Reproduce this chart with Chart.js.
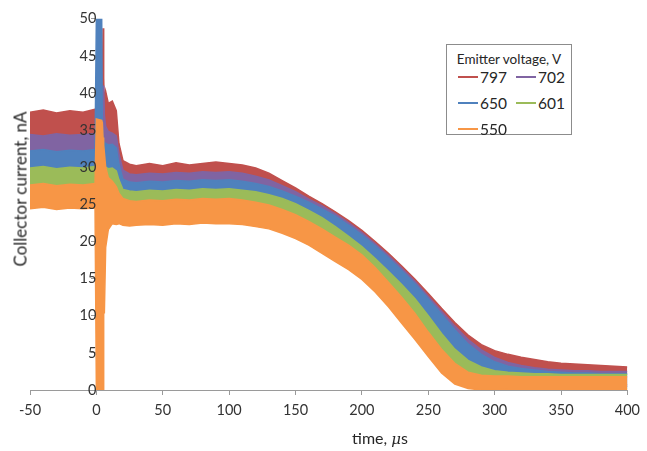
<!DOCTYPE html>
<html><head><meta charset="utf-8">
<script src="https://cdn.jsdelivr.net/npm/chart.js@4.4.0/dist/chart.umd.min.js"></script>
<style>
html,body{margin:0;padding:0;background:#fff;}
#wrap{position:relative;width:647px;height:451px;font-family:Lato,"Open Sans",sans-serif;color:#262626;overflow:hidden;}
#c{position:absolute;left:0;top:0;}
#ytitle{position:absolute;left:20px;top:189px;transform:translate(-50%,-50%) rotate(-90deg);white-space:nowrap;font-size:17px;}
#xtitle{position:absolute;left:380px;top:438px;transform:translate(-50%,-50%);white-space:nowrap;font-size:16px;}
#xtitle i{font-family:"DejaVu Serif",serif;font-size:15px;}
#legend{position:absolute;left:446px;top:44px;width:124px;height:89px;border:1px solid #8c8c8c;background:#fff;}
#legend .ttl{position:absolute;left:0;right:0;top:14px;transform:translateY(-50%);text-align:center;font-size:13.5px;white-space:nowrap;}
#legend .item{position:absolute;display:flex;align-items:center;transform:translateY(-50%);font-size:15.5px;white-space:nowrap;}
#legend .sw{display:inline-block;width:20px;height:2px;margin-right:2px;}
</style>
</head><body>
<div id="wrap">
<canvas id="c" width="647" height="451"></canvas>
<div id="ytitle">Collector current, nA</div>
<div id="xtitle">time, <i>μ</i>s</div>
<div id="legend"><div class="ttl">Emitter voltage, V</div></div>
</div>
<script>
// time samples (μs)
const T = [-50,-40,-30,-20,-10,-1,
  0,4,4.5,5,5.5,6,7,9,12,15,17,
  20,25,30,
  40,50,60,70,80,90,100,110,120,130,
  140,150,160,170,180,190,200,210,220,230,
  240,250,260,270,280,290,300,310,320,330,
  340,350,360,370,380,390,400];

const SERIES_NAMES = ['797','702','650','601','550'];
const SERIES_COLORS = ['#C0504D','#8064A2','#4F81BD','#9BBB59','#F79646'];

// upper / lower edges of each noisy trace (nA)
const RED_HI = [37.4,37.7,37.3,37.6,37.4,37.8,
  37.8,38.0,40.0,48.7,42.0,38.5,40.2,38.6,38.9,37.6,33.2,
  30.9,30.4,30.2,
  30.5,30.2,30.6,30.3,30.5,30.7,30.5,30.3,29.9,29.2,
  28.2,27.2,26.1,25.1,24.0,22.8,21.5,20.0,18.4,16.7,
  14.9,13.0,11.0,9.1,7.4,6.1,5.3,4.8,4.4,4.1,
  3.8,3.6,3.5,3.4,3.3,3.2,3.1];
const RED_LO = [33.8,33.9,33.7,33.9,33.8,33.9,
  33.8,33.8,33.8,33.8,33.8,33.8,33.6,33.5,33.5,33.0,30.0,
  27.8,27.5,27.4,
  27.6,27.4,27.7,27.5,27.6,27.8,27.6,27.4,27.0,26.4,
  25.5,24.6,23.6,22.6,21.5,20.3,19.0,17.5,15.9,14.2,
  12.4,10.5,8.5,6.6,4.9,3.6,2.7,2.1,1.7,1.4,
  1.2,1.0,0.9,0.8,0.8,0.7,0.7];
const PURPLE_HI = [34.4,34.2,34.5,34.3,34.4,34.5,
  34.5,34.6,36.0,38.0,41.0,37.0,35.5,34.8,34.6,34.2,31.8,
  29.6,29.1,29.0,
  29.2,29.1,29.3,29.2,29.4,29.3,29.4,29.2,28.8,28.3,
  27.5,26.7,25.7,24.8,23.7,22.5,21.2,19.7,18.1,16.4,
  14.6,12.6,10.6,8.6,6.8,5.4,4.4,3.7,3.3,3.0,
  2.8,2.7,2.6,2.6,2.5,2.5,2.5];
const PURPLE_LO = [31.7,31.6,31.8,31.7,31.6,31.7,
  31.7,31.5,31.5,31.5,31.5,31.5,31.5,31.4,31.3,31.2,28.8,
  26.6,26.3,26.2,
  26.4,26.3,26.5,26.4,26.6,26.5,26.6,26.4,26.0,25.5,
  24.7,23.9,22.9,22.0,20.9,19.7,18.4,16.9,15.3,13.6,
  11.8,9.8,7.8,5.8,4.0,2.6,1.8,1.3,1.0,0.8,
  0.7,0.6,0.6,0.5,0.5,0.5,0.5];
const BLUE_HI = [32.2,32.4,32.1,32.3,32.2,32.4,
  50,50,36.0,34.0,33.6,33.3,33.2,33.0,33.1,32.6,30.4,
  28.4,28.0,27.9,
  28.1,28.0,28.2,28.1,28.3,28.2,28.3,28.1,27.8,27.4,
  26.8,26.1,25.3,24.4,23.4,22.2,20.9,19.4,17.8,16.1,
  14.3,12.3,10.2,8.1,6.2,4.8,3.8,3.2,2.9,2.7,
  2.5,2.4,2.3,2.3,2.2,2.2,2.2];
const BLUE_LO = [29.6,29.7,29.5,29.7,29.6,29.7,
  29.0,29.0,29.3,29.5,29.5,29.5,29.5,29.4,29.4,29.2,27.4,
  25.4,25.1,25.0,
  25.2,25.1,25.3,25.2,25.4,25.3,25.4,25.2,24.9,24.5,
  23.9,23.2,22.4,21.5,20.5,19.3,18.0,16.5,14.9,13.2,
  11.4,9.4,7.3,5.2,3.4,2.1,1.3,0.9,0.7,0.5,
  0.4,0.4,0.4,0.4,0.4,0.4,0.4];
const GREEN_HI = [29.9,30.1,29.8,30.0,29.9,30.1,
  30.1,30.1,30.3,31.0,30.5,30.2,30.0,29.8,29.9,29.5,28.3,
  27.0,26.8,26.7,
  26.9,26.8,27.0,26.9,27.1,27.0,27.1,26.9,26.7,26.3,
  25.8,25.1,24.2,23.2,22.0,20.7,19.3,17.7,16.0,14.2,
  12.3,10.0,7.6,5.5,4.0,3.1,2.6,2.4,2.3,2.2,
  2.2,2.1,2.1,2.1,2.1,2.1,2.1];
const GREEN_LO = [27.4,27.5,27.3,27.5,27.4,27.5,
  27.3,27.3,27.3,27.4,27.4,27.3,27.3,27.2,27.2,27.0,25.4,
  24.2,23.9,23.8,
  24.0,23.9,24.1,24.0,24.2,24.1,24.2,24.0,23.8,23.4,
  22.9,22.2,21.3,20.3,19.1,17.8,16.4,14.8,13.1,11.3,
  9.4,7.1,4.7,2.6,1.1,0.4,0.2,0.2,0.2,0.2,
  0.2,0.2,0.2,0.2,0.2,0.2,0.2];
const ORANGE_HI = [27.6,27.8,27.5,27.7,27.6,27.8,
  36.5,36.3,36.0,34.0,33.0,32.0,30.0,28.6,28.1,27.4,26.5,
  25.8,25.5,25.4,
  25.6,25.5,25.7,25.6,25.8,25.7,25.8,25.6,25.3,24.9,
  24.3,23.6,22.7,21.7,20.6,19.5,18.2,16.5,14.5,12.5,
  10.3,7.8,5.5,3.6,2.4,2.0,1.9,1.9,1.8,1.8,
  1.8,1.8,1.8,1.8,1.8,1.8,1.8];
const ORANGE_LO = [24.4,24.6,24.3,24.5,24.4,24.5,
  0,0,0,0,12.0,10.3,19.2,21.6,22.4,22.3,22.4,
  22.2,22.1,22.2,
  22.3,22.2,22.4,22.3,22.5,22.4,22.4,22.3,22.0,21.7,
  21.1,20.4,19.5,18.4,17.3,16.2,14.9,13.2,11.2,9.0,
  6.8,4.5,2.3,0.8,0.2,0,0,0.1,0.1,0.1,
  0.1,0.1,0.1,0.1,0.1,0.1,0.1];

const X_TICK_STEP = 50, Y_TICK_STEP = 5;

const HI = [RED_HI, PURPLE_HI, BLUE_HI, GREEN_HI, ORANGE_HI];
const LO = [RED_LO, PURPLE_LO, BLUE_LO, GREEN_LO, ORANGE_LO];

const datasets = [];
SERIES_NAMES.forEach((name, k) => {
  const col = SERIES_COLORS[k];
  const ord = SERIES_NAMES.length - 1 - k;
  datasets.push({label: name, data: T.map((t,i)=>({x:t,y:HI[k][i]})),
    borderColor: col, backgroundColor: col, borderWidth: 1.5, pointRadius: 0,
    fill: false, tension: 0, order: ord});
  datasets.push({label: name + ' low', data: T.map((t,i)=>({x:t,y:LO[k][i]})),
    borderColor: col, backgroundColor: col, borderWidth: 1.5, pointRadius: 0,
    fill: '-1', tension: 0, order: ord});
});

const axisGray = '#9a9a9a';
const tickFont = {family: 'Lato', size: 14.5};

new Chart(document.getElementById('c'), {
  type: 'line',
  data: {datasets},
  options: {
    responsive: false, animation: false,
    layout: {padding: {left: 30, right: 18, top: 15, bottom: 24.6}},
    plugins: {legend: {display: false}, tooltip: {enabled: false}},
    scales: {
      x: {type: 'linear', min: -50, max: 400,
        ticks: {stepSize: X_TICK_STEP, color: '#333', font: tickFont, padding: 7, maxRotation: 0},
        grid: {drawOnChartArea: false, tickLength: 5, color: axisGray},
        border: {color: axisGray}},
      y: {type: 'linear', min: 0, max: 50, position: {x: 0},
        ticks: {stepSize: Y_TICK_STEP, color: '#333', font: tickFont, padding: 10, z: 1},
        grid: {drawOnChartArea: false, tickLength: 5, color: axisGray},
        border: {display: false}}
    }
  }
});

// legend (HTML)
const lg = document.getElementById('legend');
SERIES_NAMES.forEach((name, k) => {
  const it = document.createElement('div');
  it.className = 'item';
  it.style.left = (11 + (k % 2) * 58) + 'px';
  it.style.top = (32 + Math.floor(k / 2) * 26) + 'px';
  const sw = document.createElement('span');
  sw.className = 'sw'; sw.style.background = SERIES_COLORS[k];
  it.appendChild(sw);
  it.appendChild(document.createTextNode(name));
  lg.appendChild(it);
});
</script>
</body></html>
